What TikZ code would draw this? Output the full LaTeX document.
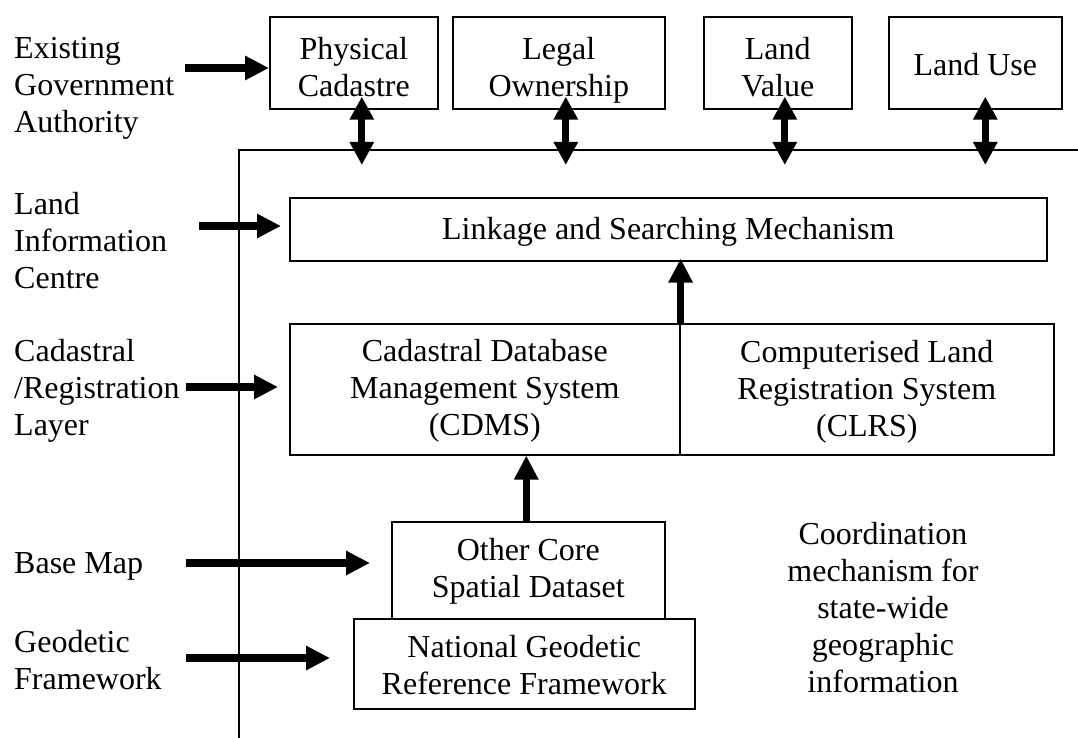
\documentclass[tikz,border=0pt]{standalone}
\usepackage{fontspec}
\setmainfont{Liberation Serif}
\usetikzlibrary{arrows.meta,calc}
\begin{document}
\begin{tikzpicture}[x=1pt,y=-1pt,
  every node/.style={font=\fontsize{32}{37}\selectfont, inner sep=0pt},
  txt/.style={execute at begin node={\rule{0pt}{#1}}, execute at end node={\rule[-9pt]{0pt}{9pt}}},
  txt/.default=33pt,
  box/.style={draw, line width=1.6pt, align=center, anchor=north west},
  lbl/.style={align=left, anchor=west},
  fat/.style={line width=7.5pt, -{Triangle[length=24pt,width=23pt]}},
  dbl/.style={line width=7pt, {Triangle[length=23pt,width=23pt]}-{Triangle[length=23pt,width=23pt]}},
  frameline/.style={line width=1.6pt}]
\useasboundingbox (0,0) rectangle (1078,738);
% frame
\draw[frameline] (1080,150) -- (239,150) -- (239,740);
% top boxes
\node[box, txt=77pt, minimum width=168pt, minimum height=92pt] (pc) at (269,16) {Physical\\Cadastre};
\node[box, txt=77pt, minimum width=212pt, minimum height=92pt] (lo) at (452,16) {Legal\\Ownership};
\node[box, txt=77pt, minimum width=148pt, minimum height=92pt] (lv) at (703,16) {Land\\Value};
\node[box, txt=35pt, minimum width=173pt, minimum height=92pt] (lu) at (888,16) {Land Use};
% inner boxes
\node[box, txt=30pt, minimum width=757pt, minimum height=63pt] (lk) at (289,197) {Linkage and Searching Mechanism};
\node[box, txt=102pt, minimum width=390pt, minimum height=131pt] (cd) at (289,323) {Cadastral Database\\Management System\\(CDMS)};
\node[box, txt=104pt, minimum width=374pt, minimum height=131pt] (cl) at (679,323) {Computerised Land\\Registration System\\(CLRS)};
\node[box, txt=64pt, minimum width=273pt, minimum height=97pt] (oc) at (391,521) {Other Core\\Spatial Dataset};
\node[box, txt=71pt, minimum width=341pt, minimum height=90pt] (ng) at (353,618) {National Geodetic\\Reference Framework};
\node[align=center, txt=181pt] (co) at (883,606) {Coordination\\mechanism for\\state-wide\\geographic\\information};
% left labels
\node[lbl, txt=105pt] (l1) at (14,85) {Existing\\Government\\Authority};
\node[lbl, txt=108pt] (l2) at (14,238.5) {Land\\Information\\Centre};
\node[lbl, txt=108pt] (l3) at (14,385.5) {Cadastral\\/Registration\\Layer};
\node[anchor=base west] (l4) at (14,573) {Base Map};
\node[lbl, txt=73pt] (l5) at (14,657) {Geodetic\\Framework};
% left arrows
\coordinate (s1) at (185,68);
\coordinate (s2) at (199,226);
\coordinate (s3) at (186,387);
\coordinate (s4) at (186,563);
\coordinate (s5) at (186,658);
\draw[fat] (s1) -- (s1 -| pc.west);
\draw[fat] (s2) -- ($(s2 -| lk.west)+(-8,0)$);
\draw[fat] (s3) -- ($(s3 -| cd.west)+(-11,0)$);
\draw[fat] (s4) -- ($(s4 -| oc.west)+(-21,0)$);
\draw[fat] (s5) -- ($(s5 -| ng.west)+(-23,0)$);
% double arrows
\coordinate (tips) at (0,165);
\coordinate (d1) at ($(pc.south)+(8,-13)$);
\coordinate (d2) at ($(lo.south)+(7,-13)$);
\coordinate (d3) at ($(lv.south)+(7,-13)$);
\coordinate (d4) at ($(lu.south)+(10,-13)$);
\draw[dbl] (d1) -- (d1 |- tips);
\draw[dbl] (d2) -- (d2 |- tips);
\draw[dbl] (d3) -- (d3 |- tips);
\draw[dbl] (d4) -- (d4 |- tips);
% vertical arrows
\draw[fat, line width=6.5pt] (cd.north east) -- ($(cd.north east |- lk.south)+(0,-3)$);
\draw[fat, line width=6.5pt] ($(oc.north)+(-2,0)$) -- ($(oc.north |- cd.south)+(-2,0)$);
\end{tikzpicture}
\end{document}
